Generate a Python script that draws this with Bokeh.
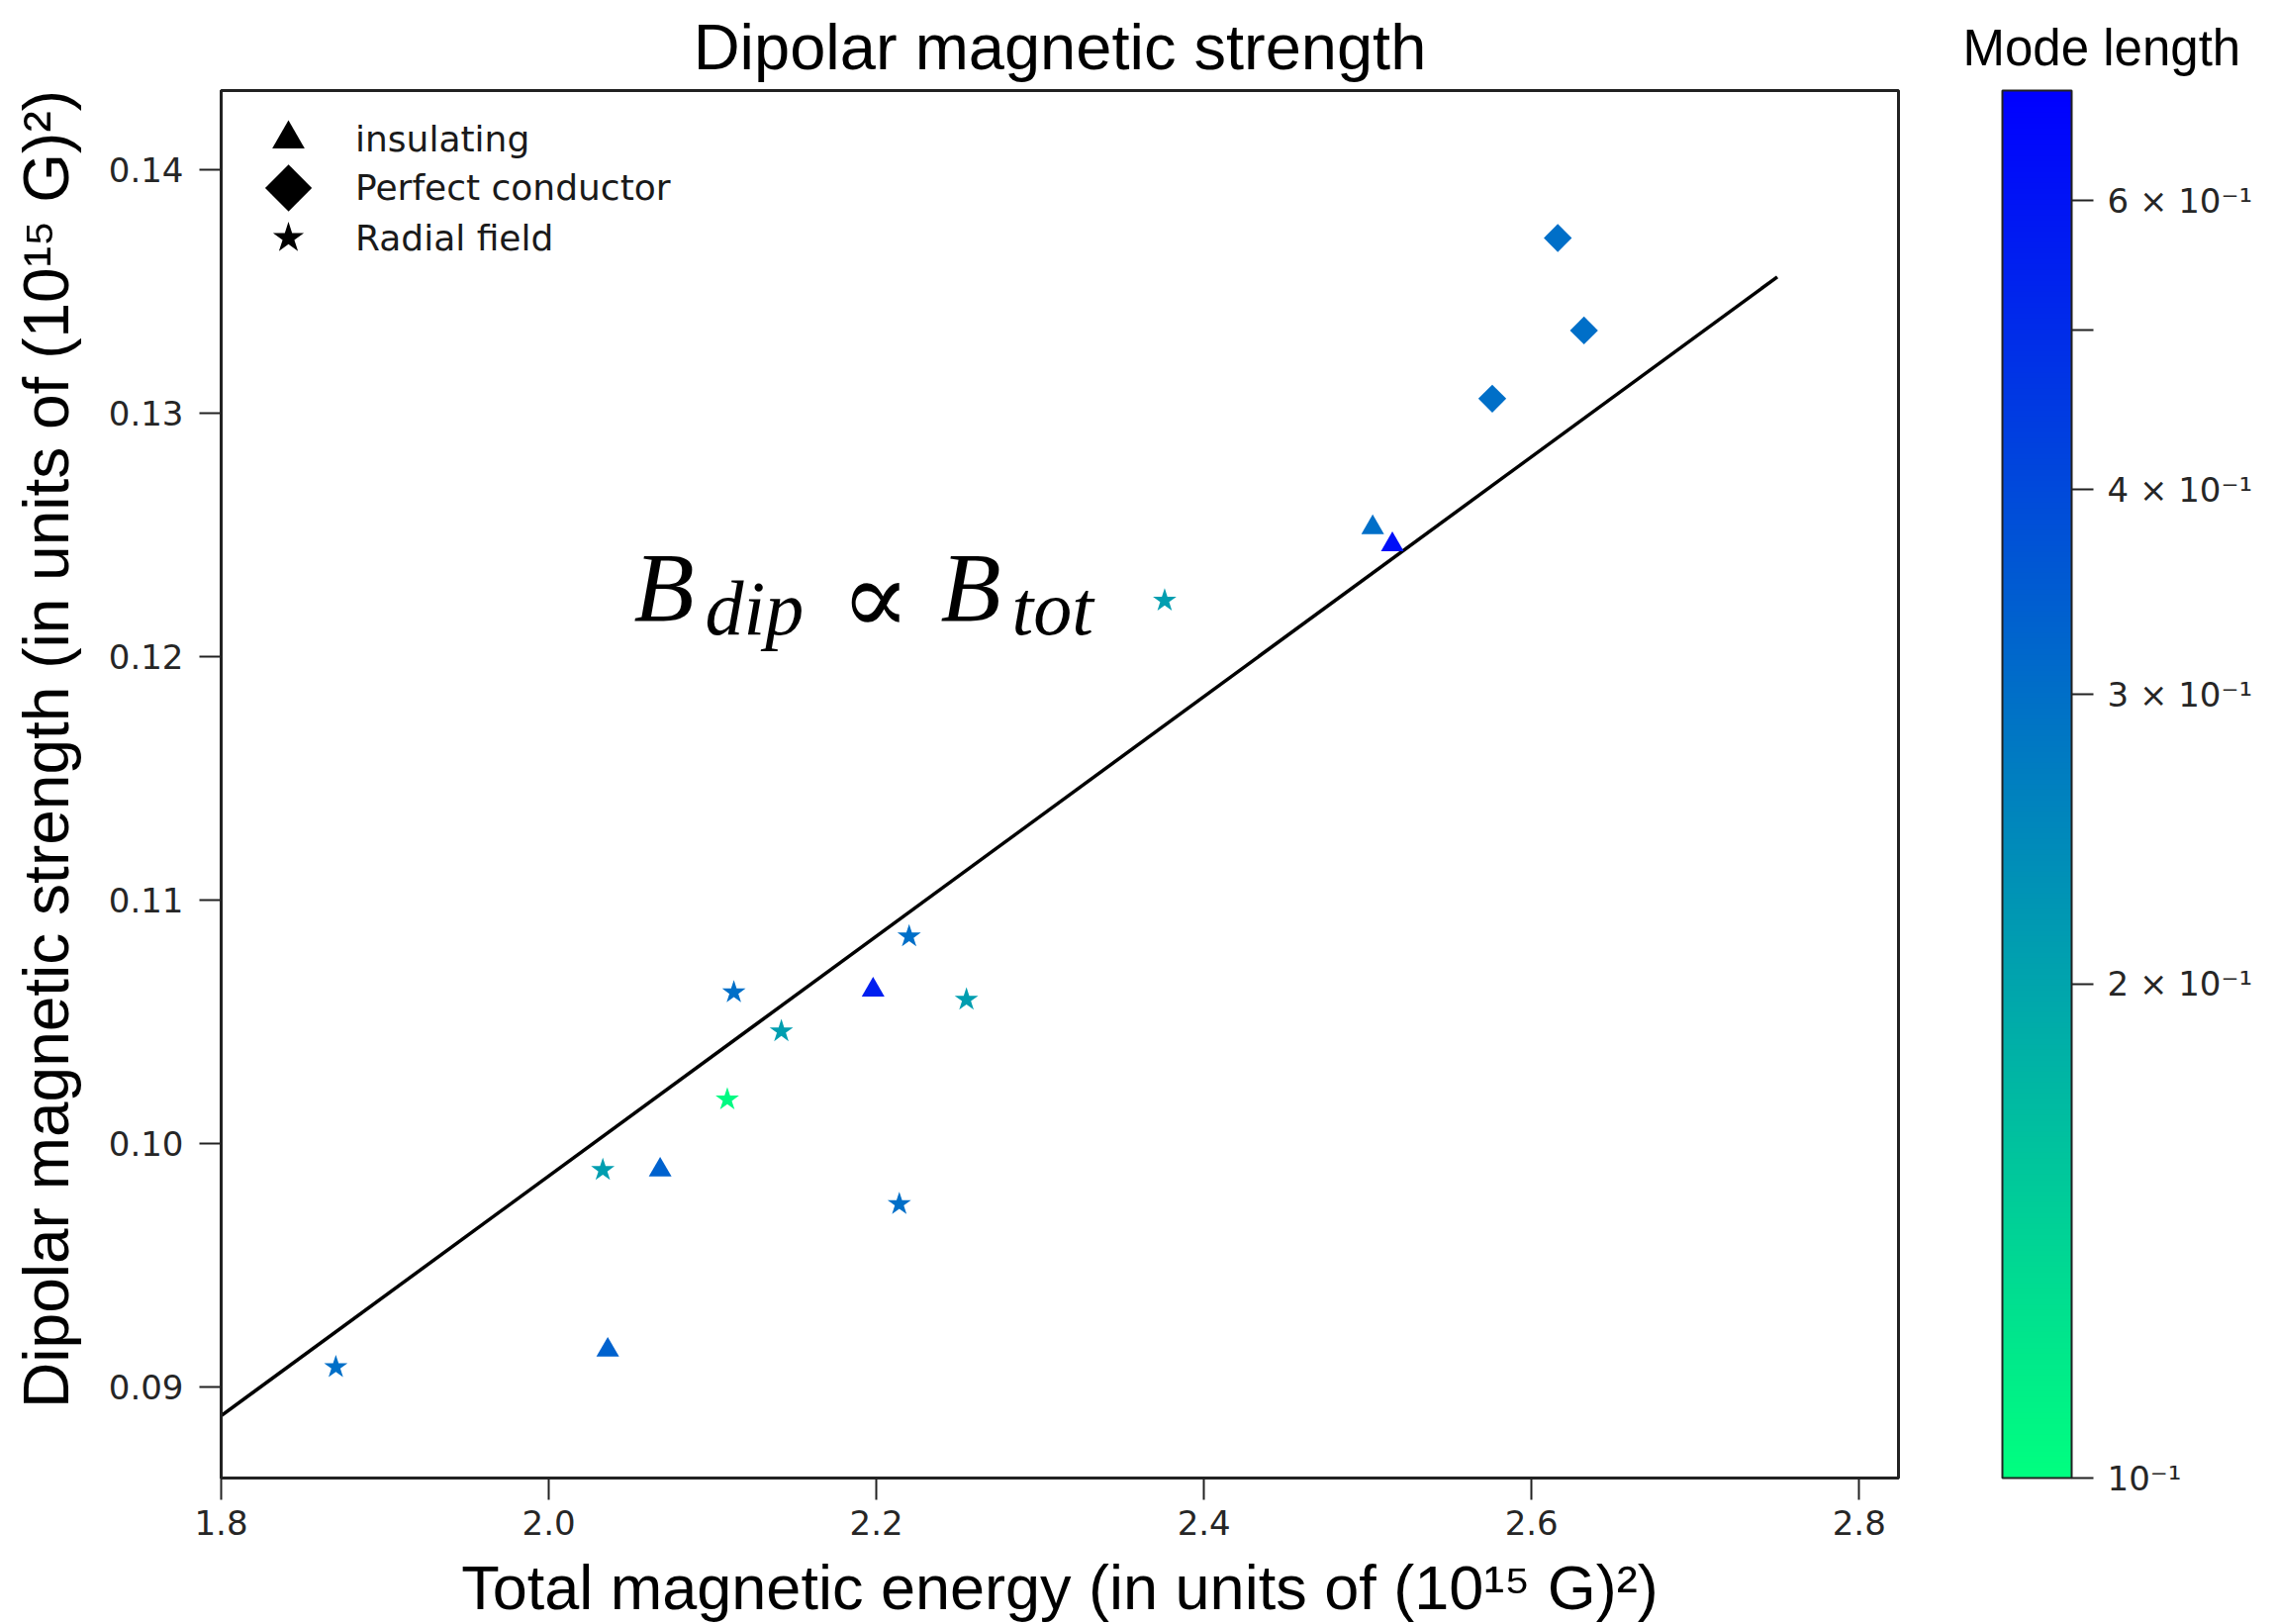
import math
from bokeh.plotting import figure
from bokeh.layouts import row
from bokeh.models import (Range1d, FixedTicker, ColorBar, LogColorMapper, Label,
                          Legend, LegendItem, ColumnDataSource)
from bokeh.transform import log_cmap
from bokeh.embed import file_html
from bokeh.resources import INLINE

# ---------------- data ----------------
ins_x = [2.036, 2.068, 2.198, 2.503, 2.515]
ins_y = [0.0915, 0.0989, 0.1063, 0.1253, 0.1246]
ins_mode = [0.33, 0.33, 0.55, 0.30, 0.62]

pc_x = [2.576, 2.616, 2.632]
pc_y = [0.1306, 0.1372, 0.1334]
pc_mode = [0.30, 0.30, 0.30]

rad_x = [1.870, 2.033, 2.109, 2.113, 2.142, 2.214, 2.220, 2.255, 2.376]
rad_y = [0.0908, 0.0989, 0.1018, 0.1062, 0.1046, 0.0975, 0.1085, 0.1059, 0.1223]
rad_mode = [0.30, 0.21, 0.104, 0.30, 0.21, 0.30, 0.30, 0.21, 0.21]

fit_x = [1.80, 2.75]
fit_y = [0.0888, 0.1356]

x_ticks = [1.8, 2.0, 2.2, 2.4, 2.6, 2.8]
x_tick_labels = ["1.8", "2.0", "2.2", "2.4", "2.6", "2.8"]
y_ticks = [0.09, 0.10, 0.11, 0.12, 0.13, 0.14]
y_tick_labels = ["0.09", "0.10", "0.11", "0.12", "0.13", "0.14"]
cb_ticks = [0.1, 0.2, 0.3, 0.4, 0.5, 0.6]
cb_tick_labels = ["10\u207b\u00b9", "2 \u00d7 10\u207b\u00b9", "3 \u00d7 10\u207b\u00b9",
                  "4 \u00d7 10\u207b\u00b9", "", "6 \u00d7 10\u207b\u00b9"]
mode_low, mode_high = 0.1, 0.7

legend_labels = ["insulating", "Perfect conductor", "Radial field"]
legend_markers = ["triangle", "square", "star"]
legend_alpha = [1.0, 0.0, 1.0]   # the diamond glyph is drawn as a text symbol below
proxy_x = [math.nan]
proxy_y = [math.nan]

# winter_r colormap
palette = ["#%02x%02x%02x" % (0, round(255 * (1 - i / 255)), round(255 * (0.5 + 0.5 * i / 255)))
           for i in range(256)]

TICK_FONT = "DejaVu Sans"
SANS = "Liberation Sans"
H = 1641

p = figure(width=1983, height=H,
           x_range=Range1d(1.8, 2.824), y_range=Range1d(0.08624, 0.14326),
           output_backend="svg", toolbar_location=None,
           min_border_left=223, min_border_right=65, min_border_top=91, min_border_bottom=148)

p.title.text = "Dipolar magnetic strength"
p.title.align = "center"
p.title.text_font = SANS
p.title.text_font_style = "normal"
p.title.text_font_size = "65px"
p.title.text_color = "black"
p.title.standoff = 16

p.xgrid.visible = False
p.ygrid.visible = False
p.outline_line_color = "#222222"
p.outline_line_width = 3
p.background_fill_color = "white"
p.border_fill_color = "white"

for ax in (p.xaxis[0], p.yaxis[0]):
    ax.axis_line_color = "#222222"
    ax.axis_line_width = 3
    ax.major_tick_out = 22
    ax.major_tick_in = 0
    ax.major_tick_line_width = 2
    ax.major_tick_line_color = "#222222"
    ax.minor_tick_line_color = None
    ax.major_label_text_font = TICK_FONT
    ax.major_label_text_font_size = "34px"
    ax.major_label_text_color = "#262626"
    ax.axis_label_text_font = SANS
    ax.axis_label_text_font_style = "normal"
    ax.axis_label_text_color = "black"

p.xaxis.ticker = FixedTicker(ticks=x_ticks, minor_ticks=[])
p.xaxis.major_label_overrides = dict(zip(x_ticks, x_tick_labels))
p.xaxis.major_label_standoff = 10
p.xaxis.axis_label = "Total magnetic energy (in units of (10\u00b9\u2075 G)\u00b2)"
p.xaxis.axis_label_text_font_size = "63px"
p.xaxis.axis_label_standoff = 15

p.yaxis.ticker = FixedTicker(ticks=y_ticks, minor_ticks=[])
p.yaxis.major_label_overrides = dict(zip(y_ticks, y_tick_labels))
p.yaxis.major_label_standoff = 16
p.yaxis.major_label_orientation = "horizontal"
p.yaxis.axis_label = "\u00a0\u00a0\u00a0\u00a0Dipolar magnetic strength (in units of (10\u00b9\u2075 G)\u00b2)"
p.yaxis.axis_label_text_font_size = "64px"
p.yaxis.axis_label_standoff = 24

# fit line
p.line(fit_x, fit_y, line_color="black", line_width=3.5)

# data markers
cmap = log_cmap("mode", palette, mode_low, mode_high)
src_ins = ColumnDataSource(dict(x=ins_x, y=ins_y, mode=ins_mode))
src_pc = ColumnDataSource(dict(x=pc_x, y=pc_y, mode=pc_mode))
src_rad = ColumnDataSource(dict(x=rad_x, y=rad_y, mode=rad_mode))

p.scatter("x", "y", source=src_ins, marker="triangle", size=23, fill_color=cmap, line_color=None)
p.scatter("x", "y", source=src_pc, marker="square", angle=math.pi / 4, size=20,
          fill_color=cmap, line_color=None)
p.scatter("x", "y", source=src_rad, marker="star", size=25, fill_color=cmap, line_color=None)

# legend: one single-item legend per row (black proxy markers)
row_bottoms = [1312, 1263, 1212]
for lab, mk, al, vy in zip(legend_labels, legend_markers, legend_alpha, row_bottoms):
    proxy = p.scatter(x=proxy_x, y=proxy_y, marker=mk, fill_color="black",
                      fill_alpha=al, line_color=None)
    lg = Legend(items=[LegendItem(label=lab, renderers=[proxy])], location=(27, vy),
                glyph_width=82, glyph_height=82, spacing=0, padding=0, margin=0,
                label_standoff=27)
    lg.label_text_font = TICK_FONT
    lg.label_text_font_size = "36px"
    lg.label_text_color = "#1a1a1a"
    lg.border_line_alpha = 0
    lg.background_fill_alpha = 0
    p.add_layout(lg)

# diamond symbol for the "Perfect conductor" legend row
p.add_layout(Label(x=68, y=1309, x_units="screen", y_units="screen", text="\u25c6",
                   text_font="DejaVu Sans", text_font_size="62px", text_color="black",
                   text_align="center", text_baseline="middle"))

# formula annotation
serif = "Liberation Serif"
def add_txt(x, y, t, size, font=serif, style="italic"):
    p.add_layout(Label(x=x, y=y, x_units="screen", y_units="screen", text=t,
                       text_font=font, text_font_style=style, text_font_size=size,
                       text_color="black", text_baseline="alphabetic"))

add_txt(417, 900, "B", "100px")
add_txt(489, 879, "dip", "78px")
add_txt(626, 890, "\u221d", "104px", font="DejaVu Serif", style="normal")
add_txt(727, 900, "B", "100px")
add_txt(799, 879, "tot", "78px")

# colour bar in its own narrow panel
p2 = figure(width=318, height=H, x_range=Range1d(0, 1), y_range=Range1d(0, 1),
            output_backend="svg", toolbar_location=None,
            x_axis_location=None, y_axis_location=None,
            min_border_left=40, min_border_right=0, min_border_top=91, min_border_bottom=148)
p2.xgrid.visible = False
p2.ygrid.visible = False
p2.outline_line_color = None
p2.border_fill_color = "white"
p2.title.text = "Mode length"
p2.title.align = "left"
p2.title.offset = -40
p2.title.text_font = SANS
p2.title.text_font_style = "normal"
p2.title.text_font_size = "51px"
p2.title.text_color = "black"
p2.title.standoff = 30

mapper = LogColorMapper(palette=palette, low=mode_low, high=mode_high)
cb = ColorBar(color_mapper=mapper, width=70, height=1402, location="top_left",
              margin=0, padding=0, background_fill_alpha=0,
              ticker=FixedTicker(ticks=cb_ticks, minor_ticks=[]),
              major_label_overrides=dict(zip(cb_ticks, cb_tick_labels)),
              major_tick_out=22, major_tick_in=0,
              major_tick_line_color="#222222", major_tick_line_width=2,
              minor_tick_line_color=None,
              bar_line_color="#222222", bar_line_width=2,
              label_standoff=14,
              major_label_text_font=TICK_FONT, major_label_text_font_size="34px",
              major_label_text_color="#262626")
p2.add_layout(cb)

layout = row(p, p2, spacing=0)
open("out.html", "w").write(file_html(layout, INLINE))
